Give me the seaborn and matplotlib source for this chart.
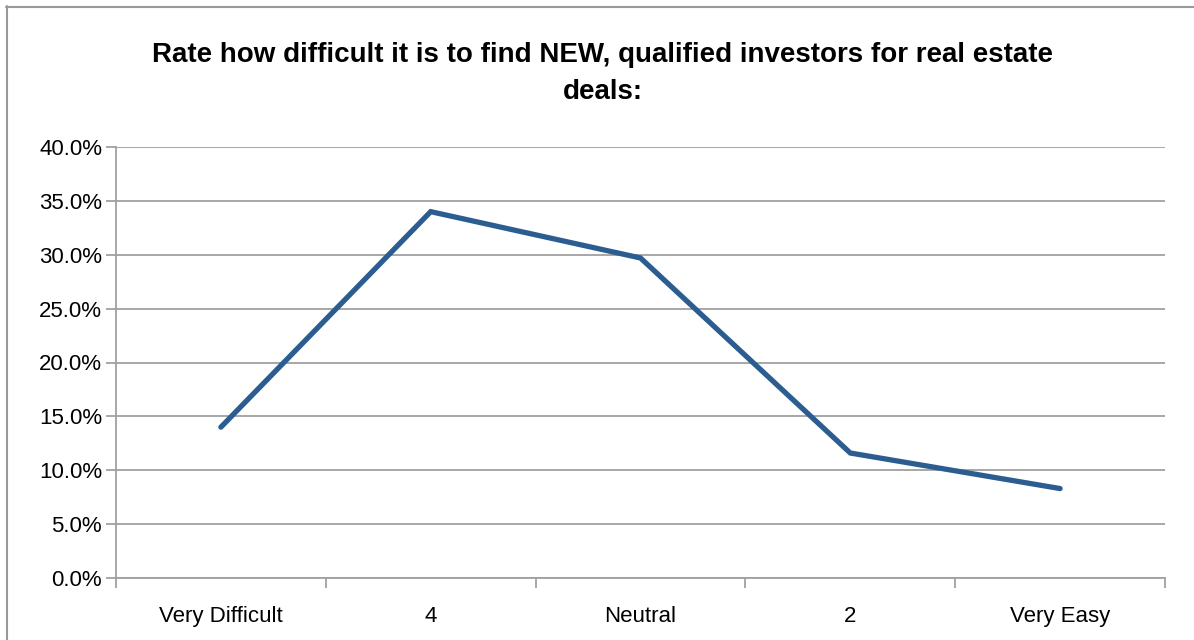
import matplotlib
matplotlib.use("Agg")
import matplotlib.pyplot as plt
import seaborn as sns
import pandas as pd
from matplotlib.ticker import FixedLocator, FuncFormatter
from matplotlib.lines import Line2D

categories = ["Very Difficult", "4", "Neutral", "2", "Very Easy"]
values = [14.0, 34.0, 29.7, 11.6, 8.3]
y_ticks = [0, 5, 10, 15, 20, 25, 30, 35, 40]
title = "Rate how difficult it is to find NEW, qualified investors for real estate\ndeals:"

sns.set_theme(style="white")
plt.rcParams['font.family'] = ['Liberation Sans', 'DejaVu Sans']

df = pd.DataFrame({"pos": range(len(categories)), "value": values})

fig = plt.figure(figsize=(11.94, 6.4), dpi=100)
ax = fig.add_axes([116/1194, 1-578/640, (1165-116)/1194, (578-147)/640])

for v in y_ticks:
    ax.axhline(v, color="#A0A0A0", lw=1.3, zorder=1)

sns.lineplot(data=df, x="pos", y="value", ax=ax, color="#2B5D90", lw=3.8,
             solid_capstyle="round", solid_joinstyle="miter", zorder=3)

ax.set_xlim(-0.5, len(categories) - 0.5)
ax.set_ylim(0, 40)
ax.set_xlabel("")
ax.set_ylabel("")

ax.xaxis.set_major_locator(FixedLocator([i - 0.5 for i in range(len(categories) + 1)]))
ax.xaxis.set_major_formatter(FuncFormatter(lambda x, p: ""))
ax.set_xticks(list(range(len(categories))), minor=True)
ax.set_xticklabels(categories, minor=True)
ax.tick_params(axis="x", which="major", length=7, width=1.3, color="#A0A0A0", direction="out")
ax.tick_params(axis="x", which="minor", length=0, labelsize=16, pad=20, labelcolor="black")

ax.set_yticks(y_ticks)
ax.yaxis.set_major_formatter(FuncFormatter(lambda v, p: f"{v:.1f}%"))
ax.tick_params(axis="y", length=7, width=1.3, color="#A0A0A0", direction="out", labelsize=16, pad=3, labelcolor="black")
ax.tick_params(axis="both", bottom=True, left=True)

for s in ["top", "right"]:
    ax.spines[s].set_visible(False)
for s in ["left", "bottom"]:
    ax.spines[s].set_color("#A0A0A0")
    ax.spines[s].set_linewidth(1.3)

fig.text(603/1194, 1-73.5/640, title, ha="center", va="center", fontsize=20, fontweight="bold",
         color="black", linespacing=1.55)

fig.lines.append(Line2D([6/1194, 1], [1-6.5/640, 1-6.5/640], transform=fig.transFigure,
                        color="#999999", lw=1.5))
fig.lines.append(Line2D([6.5/1194, 6.5/1194], [0, 1-6/640], transform=fig.transFigure,
                        color="#999999", lw=1.5))

fig.savefig("out.png", dpi=100)
